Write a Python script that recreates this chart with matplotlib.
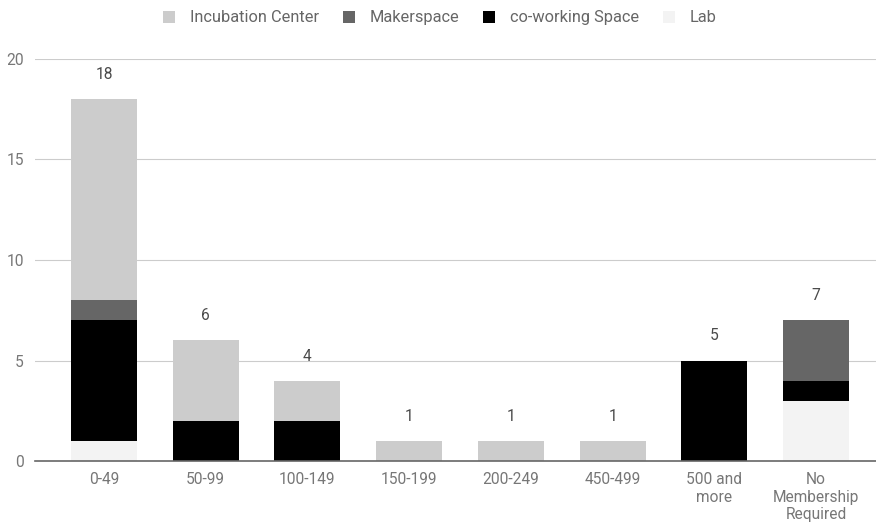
import numpy as np
import matplotlib.pyplot as plt

plt.rcParams['font.family'] = ['Roboto', 'DejaVu Sans']

categories = ['0-49', '50-99', '100-149', '150-199', '200-249', '450-499',
              '500 and\nmore', 'No\nMembership\nRequired']
lab = [1, 0, 0, 0, 0, 0, 0, 3]
coworking = [6, 2, 2, 0, 0, 0, 5, 1]
makerspace = [1, 0, 0, 0, 0, 0, 0, 3]
incubation = [10, 4, 2, 1, 1, 1, 0, 0]

fig = plt.figure(figsize=(8.76, 5.29), dpi=100)
ax = fig.add_axes([0.04, 0.1285, 0.96, 0.76])

x = np.arange(len(categories))
w = 0.65
series = [
    ('Lab', lab, '#f3f3f3'),
    ('co-working Space', coworking, '#000000'),
    ('Makerspace', makerspace, '#666666'),
    ('Incubation Center', incubation, '#cccccc'),
]
bottom = np.zeros(len(categories))
handles = {}
for name, vals, col in series:
    vals = np.array(vals, dtype=float)
    b = ax.bar(x, vals, w, bottom=bottom, color=col, label=name, zorder=3)
    handles[name] = b
    bottom += vals

for xi, tot in zip(x, bottom):
    ax.text(xi, tot + 0.85, f'{int(tot)}', ha='center', va='bottom',
            fontsize=11.2, color='#4a4a4a')

ax.set_xlim(-0.678, 7.59)
ax.set_ylim(0, 20)
ax.set_yticks([0, 5, 10, 15, 20])
ax.set_xticks(x)
ax.set_xticklabels(categories, fontsize=11.2, color='#777777', linespacing=1.2)
ax.tick_params(axis='y', labelsize=11.2, labelcolor='#777777', length=0, pad=8)
ax.tick_params(axis='x', length=0, pad=8)
ax.grid(axis='y', color='#cccccc', linewidth=0.8, zorder=0)
for s in ['top', 'right', 'left']:
    ax.spines[s].set_visible(False)
ax.spines['bottom'].set_color('#666666')
ax.spines['bottom'].set_linewidth(1.2)
ax.spines['bottom'].set_zorder(4)

order = ['Incubation Center', 'Makerspace', 'co-working Space', 'Lab']
fig.legend([handles[n] for n in order], order, loc='center', ncol=4,
           bbox_to_anchor=(0.502, 0.966), frameon=False, fontsize=11.8,
           labelcolor='#666666', handlelength=0.75, handleheight=0.75,
           columnspacing=1.45, handletextpad=0.9)

fig.savefig('out.png', dpi=100)
